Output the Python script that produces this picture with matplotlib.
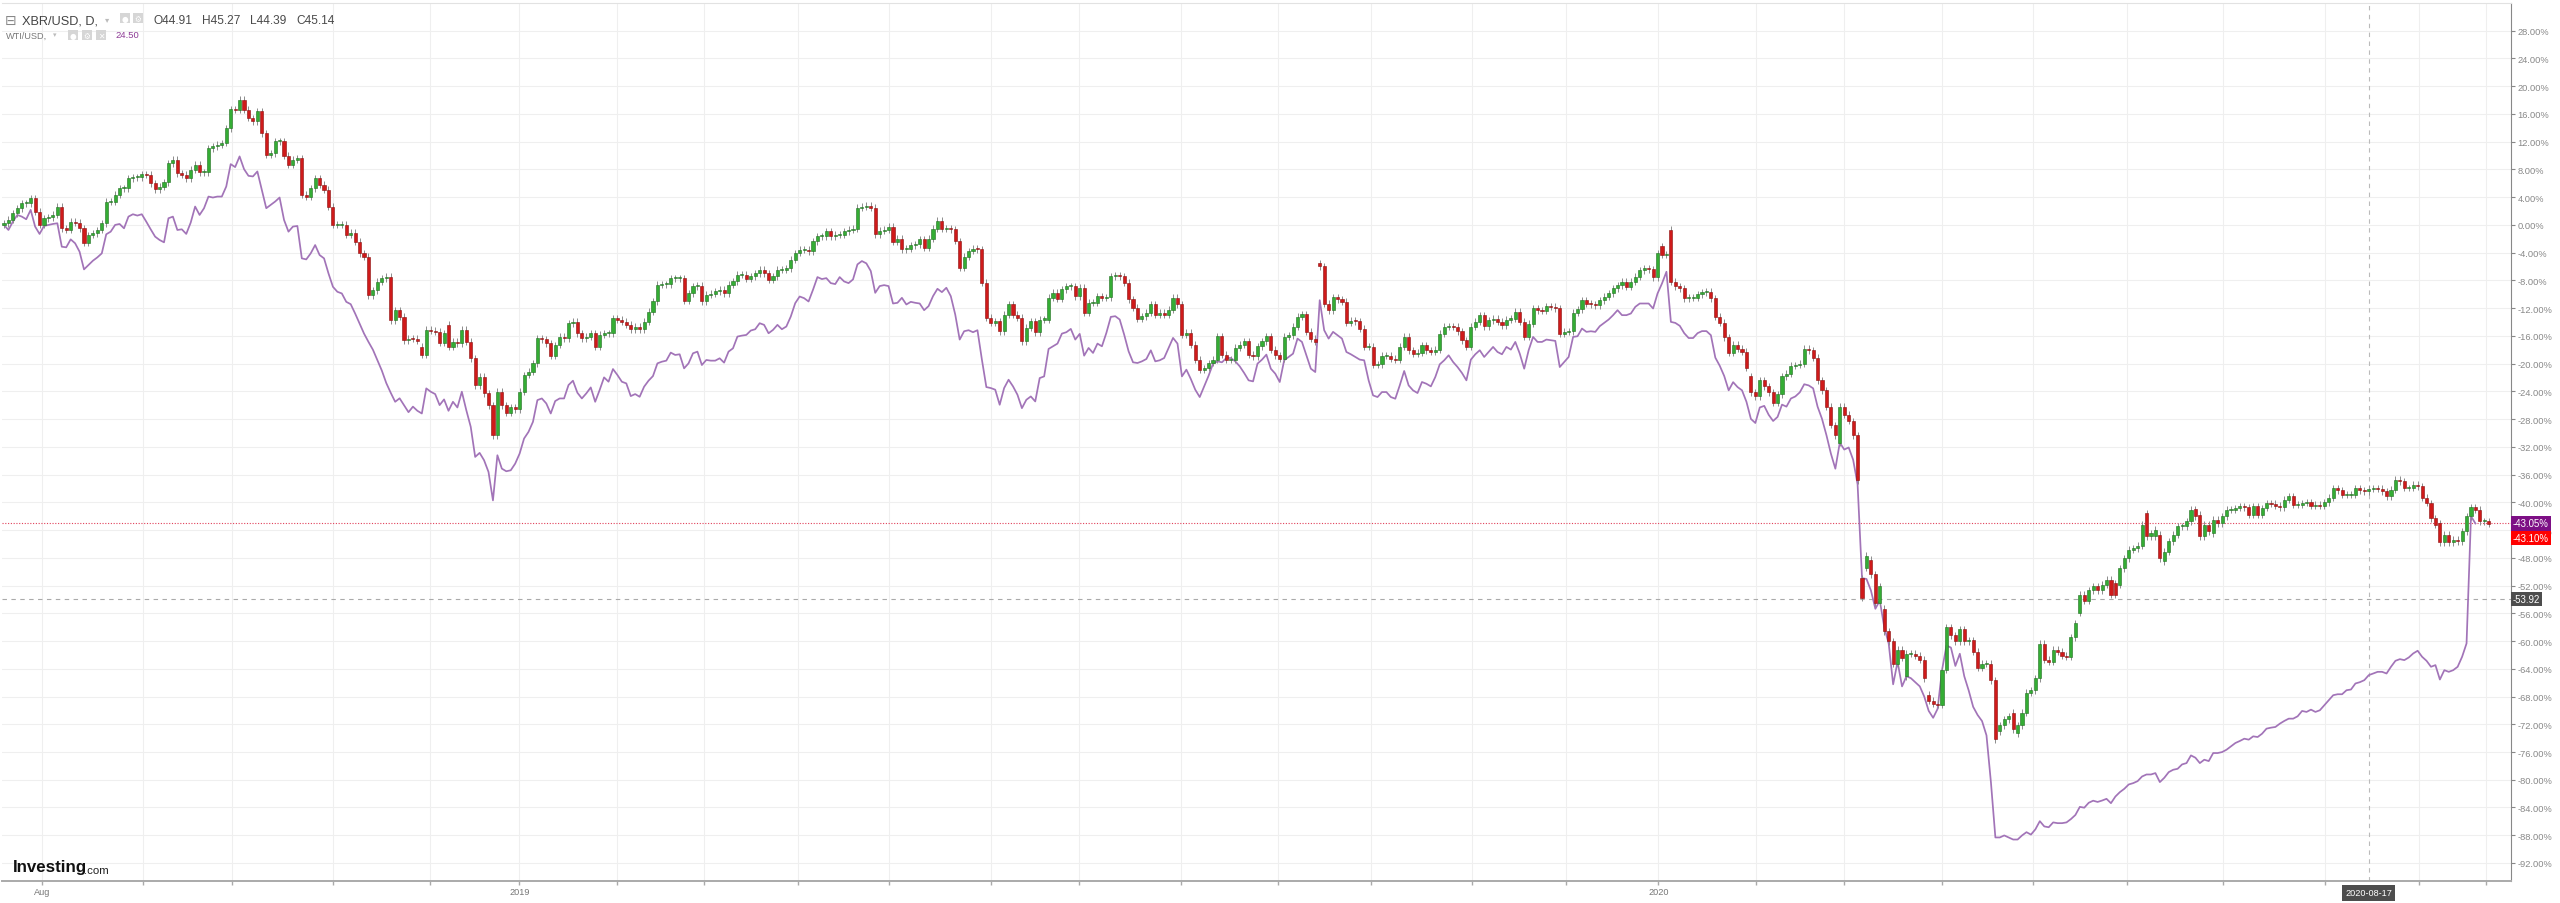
import numpy as np
import matplotlib
matplotlib.use("Agg")
import matplotlib.pyplot as plt
from matplotlib.patches import Rectangle

plt.rcParams['font.family'] = ['Liberation Sans', 'DejaVu Sans']

# XBR/USD daily closes, % change vs first bar
xbr_aug_nov18 = [
    0.24, 0.72, 1.68, 2.41, 3.13, 3.13, 3.85, 1.93, 0.0, 0.96,
    1.11, 1.44, 2.65, -0.49, -0.73, 0.48, 0.33, -0.49, -2.56, -1.45,
    -1.21, -0.73, 0.24, 3.37, 3.37, 4.33, 5.3, 5.3, 6.74, 6.84,
    6.84, 7.32, 7.23, 6.02, 5.15, 5.54, 6.12, 8.91, 9.4, 7.47,
    7.23, 6.74, 7.95, 8.67, 7.56, 7.56, 11.08, 11.32, 11.56, 11.81,
    13.97, 16.72, 16.63, 18.07, 16.63, 15.42, 14.94, 16.39, 13.25, 10.12,
    10.36, 12.05, 12.05, 9.97, 8.67, 9.4, 9.64, 4.33, 4.09, 5.3,
    6.74, 5.78, 5.06, 2.65, 0.0, 0.0, 0.0, -1.45, -1.11, -2.41,
    -4.1, -4.58, -10.12, -9.4, -8.2, -7.71, -7.47, -13.74, -12.3, -13.26,
    -16.63, -16.39, -16.4, -16.7]
xbr_nov18_apr19 = [
    -18.75, -15.14, -15.23, -15.38, -16.97, -15.62, -17.55, -16.82, -17.06, -15.14,
    -16.82, -19.23, -23.09, -21.88, -24.29, -25.98, -30.32, -24.05, -25.98, -27.09,
    -26.32, -26.56, -24.05, -21.64, -21.16, -19.96, -16.34, -16.49, -17.06, -18.9,
    -17.31, -16.1, -16.34, -14.17, -13.93, -15.62, -16.34, -16.1, -15.62, -17.55,
    -15.86, -15.62, -15.62, -13.45, -13.69, -13.93, -14.41, -15.04, -14.65, -15.04,
    -13.93, -12.49, -11.04, -8.63, -8.53, -8.53, -7.67, -7.67, -7.67, -10.94,
    -9.83, -8.87, -8.77, -11.04, -10.08, -9.93, -9.59, -9.35, -9.83, -8.63,
    -8.15, -7.18, -7.18, -7.76, -7.42, -6.94, -6.46, -6.94, -7.91, -7.42,
    -6.46, -6.46, -6.22, -5.01, -4.05, -3.57, -3.57, -3.81, -2.36, -1.64,
    -1.64, -0.92, -1.64, -1.4, -1.4, -0.92, -0.68]
xbr_apr19_sep19 = [
    -0.53, 2.5, 2.65, 2.75, 2.5, -1.35, -0.87, -0.72, -0.24, -2.46,
    -1.98, -3.52, -3.42, -2.94, -2.8, -2.07, -3.28, -1.98, -0.53, 0.58,
    -0.53, -0.53, -0.63, -2.32, -6.17, -4.58, -3.76, -3.42, -3.52, -8.34,
    -13.4, -14.12, -13.88, -15.33, -12.92, -11.47, -12.92, -13.4, -16.78, -14.85,
    -13.88, -15.47, -13.64, -13.64, -10.51, -9.79, -10.65, -9.3, -8.82, -8.82,
    -10.27, -9.06, -12.68, -11.23, -11.23, -10.27, -10.51, -10.41, -7.38, -7.28,
    -7.38, -8.34, -10.75, -11.96, -13.55, -13.16, -12.68, -11.47, -12.92, -12.68,
    -12.92, -12.2, -10.51, -11.47, -15.81, -15.57, -17.26, -19.43, -20.87, -20.63,
    -19.91, -19.43, -16.05, -18.7, -19.43, -19.43, -17.74, -17.26, -16.78, -18.7,
    -18.94, -17.5, -16.78, -16.05]
xbr_sep19_jan20 = [
    -17.98, -18.8, -19.28, -16.15, -15.91, -14.7, -13.25, -12.87, -15.42, -16.39,
    -16.87, -5.93, -11.33, -12.29, -10.46, -10.7, -11.09, -14.12, -13.83, -13.88,
    -14.94, -17.59, -17.59, -20.15, -20.1, -18.89, -18.89, -19.28, -19.42, -17.59,
    -16.15, -18.07, -18.56, -18.46, -17.35, -18.07, -18.32, -17.98, -15.67, -14.7,
    -14.6, -14.7, -15.33, -16.63, -17.59, -14.7, -13.98, -13.01, -14.6, -13.74,
    -13.5, -13.98, -14.46, -13.64, -13.5, -12.53, -13.98, -16.15, -14.22, -12.05,
    -12.29, -12.39, -11.71, -11.81, -12.05, -15.67, -15.42, -15.33, -12.63, -12.19,
    -10.85, -11.33, -11.42, -11.57, -10.85, -10.36, -9.88, -9.16, -8.68, -8.19,
    -8.92, -8.19, -7.47, -6.51, -6.27, -6.36, -7.57, -4.1, -4.34, -4.19,
    -8.19]
xbr_jan20_may20 = [
    -8.84, -9.13, -10.6, -10.48, -10.48, -10.01, -9.72, -9.6, -10.6, -13.25,
    -14.13, -16.2, -18.43, -17.26, -17.84, -18.26, -20.61, -24.14, -24.73, -22.38,
    -23.26, -24.14, -25.62, -24.44, -21.79, -21.49, -20.32, -20.2, -20.02, -17.84,
    -18.08, -19.14, -22.38, -23.85, -26.2, -28.85, -30.33, -26.2, -27.38, -28.27,
    -30.33, -36.8, -53.76, -47.7, -50.35, -54.47, -52.11, -58.59, -60.06, -63.3,
    -61.24, -62.42, -61.83, -61.83, -62.12, -62.71, -65.36, -68.6, -69.07, -69.19,
    -64.18, -58.0, -59.18, -60.06, -58.29, -60.06, -59.88, -61.53, -63.89, -63.3,
    -63.3, -65.65, -74.19, -72.13, -71.25, -70.84, -72.72, -72.13, -70.37, -67.42,
    -67.13, -65.36, -60.36, -62.71, -63.0, -61.24, -61.53, -62.12, -62.24, -59.47,
    -57.41, -53.29, -54.17, -52.7, -52.11, -52.7]
xbr_may20_sep20 = [
    -51.91, -51.18, -53.35, -53.35, -49.5, -48.05, -46.85, -46.6, -46.27, -43.23,
    -44.92, -44.43, -43.95, -48.05, -47.09, -45.64, -44.68, -43.47, -43.47, -42.75,
    -41.06, -42.03, -44.92, -43.23, -44.19, -42.51, -42.99, -42.03, -41.06, -41.06,
    -40.82, -40.58, -40.68, -41.78, -40.58, -41.78, -40.82, -40.1, -40.19, -40.48,
    -40.68, -39.6, -39.13, -40.34, -40.34, -40.1, -40.0, -40.48, -40.34, -40.48,
    -40.0, -39.37, -37.93, -38.27, -38.89, -38.89, -38.89, -37.93, -38.27, -38.41,
    -38.02, -37.93, -38.02, -38.41, -39.13, -38.17, -36.72, -36.96, -37.93, -37.93,
    -37.45, -37.69, -39.37, -40.1, -42.27, -43.23, -45.78, -44.68, -45.78, -45.4,
    -45.64, -44.19, -42.03, -40.68, -41.06, -42.75, -42.75, -43.1]

# bars whose open gaps away from the previous close {bar in chunk: open}
gaps_nov18_apr19 = {0: -17.55, 6: -14.41}
gaps_sep19_jan20 = {11: -5.54, 88: -3.04, 90: -0.72}
gaps_jan20_may20 = {17: -21.79, 37: -31.39, 42: -50.93, 43: -49.46, 44: -48.28,
                    47: -55.35, 52: -65.07, 57: -67.72, 73: -73.01, 76: -70.37,
                    77: -73.31, 91: -55.94}
gaps_may20_sep20 = {3: -51.66, 4: -51.91, 10: -41.54, 12: -44.92, 13: -44.68,
                    14: -48.53, 21: -40.96, 22: -41.78, 25: -44.43, 76: -42.99}

# WTI/USD comparison line, % change
wti_aug_nov18 = [
    0.0, -0.73, 0.48, 1.44, 1.2, 0.82, 2.17, -0.24, -1.3, -0.15,
    0.0, 0.14, 0.24, -3.14, -3.23, -2.08, -2.65, -3.86, -6.41, -5.79,
    -5.16, -4.68, -4.1, -1.35, -0.97, 0.0, 0.14, -0.49, 1.2, 1.54,
    1.35, 1.54, 0.48, -0.63, -1.69, -2.17, -2.51, 0.96, 1.2, -0.73,
    -0.63, -1.3, 0.33, 2.65, 1.44, 2.41, 4.09, 3.95, 4.09, 4.09,
    5.54, 8.77, 8.34, 9.88, 8.05, 7.08, 6.99, 7.71, 5.06, 2.41,
    2.89, 3.37, 3.95, 0.72, -0.97, -0.24, -0.15, -4.82, -4.97, -4.1,
    -2.9, -4.34, -4.82, -6.99, -8.92, -9.64, -9.88, -11.09, -11.43, -12.78,
    -14.22, -15.67, -16.87, -18.0, -19.5, -21.0, -22.8, -24.2, -25.5, -25.0,
    -26.0, -27.0, -26.2, -26.8]
wti_nov18_apr19 = [
    -27.19, -23.57, -24.05, -24.39, -25.98, -25.16, -26.8, -25.5, -26.32, -24.05,
    -26.7, -29.11, -33.45, -32.87, -33.93, -35.62, -39.72, -33.21, -35.14, -35.52,
    -35.38, -34.42, -32.97, -30.8, -29.84, -28.39, -25.26, -25.02, -25.74, -27.19,
    -25.4, -25.02, -25.02, -23.09, -22.46, -24.2, -25.02, -24.29, -23.43, -25.5,
    -23.81, -21.98, -22.61, -20.78, -21.64, -22.61, -22.85, -24.68, -24.39, -24.78,
    -23.33, -22.46, -21.79, -19.96, -19.72, -19.57, -18.41, -18.75, -18.65, -20.68,
    -19.96, -18.51, -18.27, -20.2, -19.47, -19.57, -19.57, -19.23, -19.86, -18.27,
    -17.79, -16.1, -15.96, -15.86, -15.23, -15.04, -14.17, -14.41, -15.62, -15.14,
    -14.41, -15.04, -14.65, -13.21, -11.28, -10.32, -10.56, -11.04, -9.35, -7.52,
    -7.81, -7.67, -8.39, -8.53, -7.52, -8.15, -8.39]
wti_apr19_sep19 = [
    -7.86, -5.69, -5.21, -5.54, -6.65, -9.79, -8.82, -8.68, -8.82, -11.33,
    -11.23, -10.51, -11.47, -11.09, -11.23, -11.33, -12.29, -11.71, -10.27, -9.21,
    -9.69, -9.06, -10.27, -12.92, -16.53, -15.33, -15.18, -15.47, -15.18, -19.43,
    -23.38, -23.52, -23.76, -25.93, -23.52, -22.32, -23.28, -24.49, -26.42, -25.21,
    -24.73, -25.45, -22.08, -21.84, -17.88, -17.5, -17.11, -15.67, -15.47, -14.99,
    -16.53, -15.71, -18.85, -17.74, -18.46, -17.11, -17.5, -15.57, -13.26, -13.16,
    -13.64, -15.81, -18.22, -19.81, -19.91, -19.67, -19.33, -18.08, -19.67, -19.52,
    -19.19, -17.74, -16.29, -17.11, -21.84, -20.87, -22.22, -23.76, -24.82, -23.28,
    -21.74, -20.0, -19.67, -19.81, -19.19, -19.19, -19.67, -20.39, -21.35, -22.41,
    -22.56, -20.0, -19.43, -18.7]
wti_sep19_jan20 = [
    -20.73, -21.45, -22.65, -19.52, -19.04, -18.56, -16.39, -16.87, -18.8, -20.73,
    -21.21, -10.85, -15.18, -16.39, -15.42, -15.91, -16.39, -18.32, -18.65, -19.04,
    -19.42, -19.52, -22.41, -24.58, -24.82, -24.1, -24.1, -24.82, -25.06, -23.14,
    -21.06, -23.14, -23.86, -24.24, -22.65, -22.9, -23.28, -21.93, -20.1, -19.52,
    -18.8, -19.76, -20.49, -21.35, -22.41, -19.42, -18.65, -18.07, -19.04, -18.32,
    -17.59, -18.32, -18.65, -17.59, -17.98, -16.87, -18.56, -20.73, -18.07, -16.15,
    -16.87, -16.87, -16.53, -16.63, -16.72, -20.49, -19.76, -19.04, -16.15, -16.05,
    -14.94, -15.42, -15.33, -15.42, -14.6, -14.12, -13.64, -13.01, -12.29, -13.01,
    -13.01, -12.77, -11.81, -11.33, -11.33, -11.33, -12.05, -9.88, -8.44, -6.75,
    -13.98]
wti_jan20_may20 = [
    -14.13, -14.55, -15.61, -16.31, -16.31, -15.61, -15.31, -15.31, -15.9, -19.14,
    -20.32, -21.79, -23.85, -22.67, -23.38, -23.85, -25.5, -27.97, -28.56, -26.32,
    -26.09, -27.38, -28.27, -27.68, -25.91, -26.2, -25.03, -24.73, -24.14, -22.97,
    -23.14, -23.56, -26.2, -27.97, -30.33, -32.98, -35.15, -31.39, -32.39, -32.09,
    -33.86, -37.39, -50.93, -51.05, -52.7, -55.35, -54.17, -58.0, -60.36, -66.24,
    -63.0, -66.54, -65.07, -65.36, -65.95, -66.54, -68.01, -70.07, -71.07, -69.78,
    -64.18, -60.65, -60.94, -63.59, -61.83, -65.07, -67.13, -69.48, -70.66, -71.54,
    -73.6, -80.37, -88.32, -88.32, -88.03, -88.32, -88.62, -88.62, -88.03, -87.56,
    -87.91, -87.15, -85.97, -86.73, -86.85, -86.15, -86.26, -86.26, -86.15, -85.67,
    -85.08, -83.91, -84.03, -83.32, -83.02, -83.2]
wti_may20_sep20 = [
    -83.0, -82.75, -83.38, -82.42, -81.79, -81.31, -80.68, -80.49, -80.2, -79.53,
    -79.24, -79.24, -79.04, -80.34, -79.72, -78.9, -78.56, -78.42, -77.79, -77.6,
    -76.49, -76.82, -77.6, -77.11, -77.31, -76.15, -76.15, -76.01, -75.67, -75.19,
    -74.7, -74.41, -74.08, -74.22, -73.74, -73.84, -73.36, -72.63, -72.49, -72.39,
    -71.91, -71.52, -71.19, -71.19, -70.85, -70.08, -70.22, -69.89, -70.22, -69.98,
    -69.26, -68.53, -67.81, -67.67, -67.67, -67.09, -66.99, -66.12, -65.93, -65.64,
    -64.92, -64.68, -64.44, -64.44, -64.68, -63.71, -62.85, -62.61, -62.75, -62.37,
    -61.79, -61.4, -62.27, -62.85, -63.71, -63.47, -65.55, -64.2, -64.44, -64.2,
    -63.71, -62.27, -60.34, -42.0, -43.05]

# time axis: bar where each month starts (Aug 2018 .. Sep 2020)
month_start_bar = [8.5, 31.3, 51.2, 74.1, 95.8, 115.9, 137.8, 157.5, 178.6, 199.2,
                   222.0, 241.9, 264.7, 286.7, 307.5, 330.3, 351.3, 372.2, 394.1,
                   413.9, 435.9, 456.5, 477.5, 499.3, 522.2, 543.2, 558.4]
month_labels = {0: 'Aug', 5: '2019', 17: '2020'}
cursor_bar, cursor_date, cursor_value = 532, '2020-08-17', -53.92
wti_last, xbr_last = -43.05, -43.10

# ---- assemble
chunks = [(xbr_aug_nov18, {}), (xbr_nov18_apr19, gaps_nov18_apr19),
          (xbr_apr19_sep19, {}), (xbr_sep19_jan20, gaps_sep19_jan20),
          (xbr_jan20_may20, gaps_jan20_may20), (xbr_may20_sep20, gaps_may20_sep20)]
close = np.concatenate([c for c, _ in chunks])
opn = np.r_[0.0, close[:-1]]
off = 0
for c, g in chunks:
    for k, v in g.items():
        opn[off + k] = v
    off += len(c)
wti = np.concatenate([wti_aug_nov18, wti_nov18_apr19, wti_apr19_sep19,
                      wti_sep19_jan20, wti_jan20_may20, wti_may20_sep20])
x = np.arange(len(close))

W, H = 2560, 904
fig = plt.figure(figsize=(W / 100, H / 100), dpi=100)
ax = fig.add_axes([2 / W, 22 / H, 2509 / W, 878 / H])
ax.set_xlim(-0.45, 564.0)
ax.set_ylim(-94.6, 32.0)

yt = np.arange(28, -93, -4)
ax.set_yticks(yt)
ax.set_yticklabels(['%.2f%%' % v for v in yt])
ax.grid(axis='y', color='#efefef', lw=0.8, zorder=0)
for m in month_start_bar:
    ax.axvline(m, color='#efefef', lw=0.8, zorder=0)
ax.set_xticks(month_start_bar)
ax.set_xticklabels([month_labels.get(i, '') for i in range(len(month_start_bar))])

ax.tick_params(axis='x', direction='out', length=3, color='#aaaaaa', width=1,
               labelsize=6.6, labelcolor='#777777', pad=1.5)
ax.tick_params(axis='y', left=False, right=True, labelleft=False, labelright=True,
               direction='out', length=3, color='#888888', width=0.8,
               labelsize=6.7, labelcolor='#888888', pad=1.5)
ax.spines['left'].set_visible(False)
ax.spines['top'].set_color('#e2e2e2')
ax.spines['right'].set_color('#888888')
ax.spines['bottom'].set_color('#aaaaaa')
ax.spines['bottom'].set_linewidth(1.4)

# WTI line
ax.plot(np.arange(len(wti)), wti, color='#a274b8', lw=1.25, zorder=2.5)

# candles
WICK = 0.5
up = close >= opn
lo = np.minimum(opn, close)
hi = np.maximum(opn, close)
ax.vlines(x, lo - WICK, hi + WICK, color='#8c8c8c', lw=0.7, zorder=3)
body = np.maximum(hi - lo, 0.15)
ax.bar(x[up], body[up], bottom=lo[up], width=0.7, color='#34ad34',
       edgecolor='#1f6e1f', lw=0.4, zorder=4)
ax.bar(x[~up], body[~up], bottom=lo[~up], width=0.7, color='#cf1a1a',
       edgecolor='#8a0e0e', lw=0.4, zorder=4)

# last-price line and cursor
ax.axhline(wti_last, color='#e0405a', lw=0.8, ls=(0, (1, 1.5)), zorder=2)
ax.axhline(cursor_value, color='#aaaaaa', lw=0.8, ls=(0, (4, 4)), zorder=2)
ax.axvline(cursor_bar, color='#bbbbbb', lw=0.8, ls=(0, (4, 4)), zorder=2)

yax = ('axes fraction', 'data')
ax.annotate('%.2f%%' % wti_last, xy=(1, wti_last), xycoords=yax, xytext=(1.2, 0),
            textcoords='offset points', ha='left', va='center', color='white',
            fontsize=6.9, bbox=dict(boxstyle='square,pad=0.22', fc='#7d0f85', ec='none'),
            annotation_clip=False)
ax.annotate('%.2f%%' % xbr_last, xy=(1, xbr_last), xycoords=yax, xytext=(1.2, -10),
            textcoords='offset points', ha='left', va='center', color='white',
            fontsize=6.9, bbox=dict(boxstyle='square,pad=0.22', fc='#ff0000', ec='none'),
            annotation_clip=False)
ax.annotate('%.2f' % cursor_value, xy=(1, cursor_value), xycoords=yax, xytext=(1.2, 0),
            textcoords='offset points', ha='left', va='center', color='white',
            fontsize=6.9, bbox=dict(boxstyle='square,pad=0.22', fc='#4d4d4d', ec='none'),
            annotation_clip=False)
ax.annotate(cursor_date, xy=(cursor_bar, 0), xycoords=('data', 'axes fraction'),
            xytext=(0, -8.5), textcoords='offset points', ha='center', va='center',
            color='white', fontsize=6.6,
            bbox=dict(boxstyle='square,pad=0.35', fc='#4d4d4d', ec='none'),
            annotation_clip=False)

# header legend
def px(xp, yp):
    return xp / W, 1 - yp / H

def icon(x0, y0, w, h, glyph=None):
    fig.patches.append(Rectangle(px(x0, y0 + h), w / W, h / H, transform=fig.transFigure,
                                 fc='#d6d6d6', ec='none'))
    if glyph:
        fig.text(*px(x0 + w / 2, y0 + h / 2 + 0.5), glyph, ha='center', va='center',
                 fontsize=5.5, color='white', family=['DejaVu Sans'])

fig.text(*px(5, 21), '\u229f', fontsize=10, color='#888888', va='center',
         family=['DejaVu Sans'])
fig.text(*px(22, 21), 'XBR/USD, D,', fontsize=9.2, color='#444444', va='center')
fig.text(*px(105, 20), '\u25be', fontsize=6, color='#bbbbbb', va='center',
         family=['DejaVu Sans'])
icon(120, 14, 10, 10, '\u25cf')
icon(133, 14, 10, 10, '\u2699')
ohlc = [('O', '44.91', 153), ('H', '45.27', 202), ('L', '44.39', 250), ('C', '45.14', 296)]
for k, v, xp in ohlc:
    fig.text(*px(xp, 21), k + v, fontsize=8.6, color='#4a4a4a', va='center')

fig.text(*px(6, 36), 'WTI/USD,', fontsize=6.6, color='#777777', va='center')
fig.text(*px(53, 35.5), '\u25be', fontsize=5, color='#bbbbbb', va='center',
         family=['DejaVu Sans'])
icon(68, 31, 10, 10, '\u25cf')
icon(82, 31, 10, 10, '\u2699')
icon(96, 31, 10, 10, '\u2715')
fig.text(*px(115, 36), '24.50', fontsize=6.8, color='#8e3c96', va='center')

# logo
fig.text(*px(13, 868), 'Investing', fontsize=12.2, fontweight='bold', color='#111111',
         va='center')
fig.text(*px(84, 871), '.com', fontsize=8.2, color='#222222', va='center')

fig.savefig('out.png', dpi=100, facecolor='white')
